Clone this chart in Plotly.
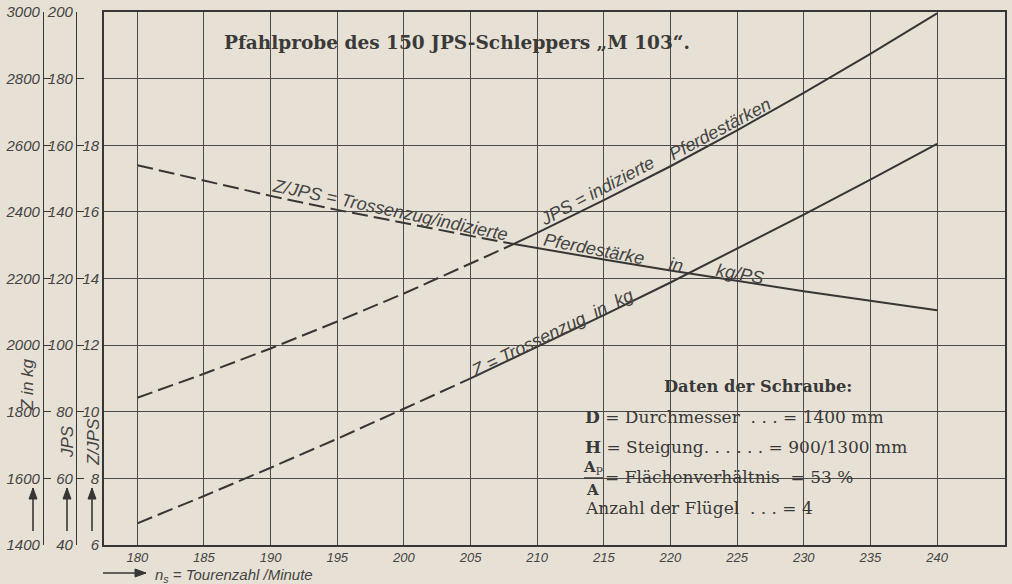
import plotly.graph_objects as go

# ---------------- data ----------------
rpm = [180, 185, 190, 195, 200, 205, 207.5, 210, 215, 220, 225, 230, 235, 240]
jps = [84.2, 91.4, 99.0, 107.1, 115.5, 124.4, 129.0, 133.7, 143.5, 153.7, 164.5, 175.7, 187.4, 199.6]
zug = [1465, 1547, 1632, 1719, 1809, 1900, 1947, 1994, 2090, 2188, 2289, 2392, 2497, 2604]
z_per_jps = [17.40, 16.93, 16.48, 16.06, 15.66, 15.28, 15.09, 14.91, 14.57, 14.24, 13.92, 13.62, 13.33, 13.05]

jps_dash_end = 6      # index where measured (solid) part starts
zjps_dash_end = 6
zug_dash_end = 5

x_ticks = [180, 185, 190, 195, 200, 205, 210, 215, 220, 225, 230, 235, 240]
z_ticks = [1400, 1600, 1800, 2000, 2200, 2400, 2600, 2800, 3000]
jps_ticks = [40, 60, 80, 100, 120, 140, 160, 180, 200]
zjps_ticks = [6, 8, 10, 12, 14, 16, 18]

# ---------------- style ----------------
W, H = 1012, 584
ML, MR, MT, MB = 0, 7, 12, 39
PW, PH = W - ML - MR, H - MT - MB
BG = "#e7e1d5"
INK = "#363636"
TXT = "#444444"
GRID = "#4a4a4a"
SANS = "Liberation Sans, Arial, sans-serif"
SERIF = "DejaVu Serif, Liberation Serif, serif"
DASH = "16px,6px"


def px(x):
    return (x - ML) / PW


def py(y):
    return (H - MB - y) / PH


fig = go.Figure()


def add_line(xs, ys, axis, dash):
    fig.add_trace(go.Scatter(x=xs, y=ys, yaxis=axis, mode="lines",
                             line=dict(color=INK, width=2, dash=dash),
                             hoverinfo="skip", showlegend=False))


add_line(rpm[:jps_dash_end + 1], jps[:jps_dash_end + 1], "y2", DASH)
add_line(rpm[jps_dash_end:], jps[jps_dash_end:], "y2", "solid")
add_line(rpm[:zug_dash_end + 1], zug[:zug_dash_end + 1], "y", DASH)
add_line(rpm[zug_dash_end:], zug[zug_dash_end:], "y", "solid")
add_line(rpm[:zjps_dash_end + 1], z_per_jps[:zjps_dash_end + 1], "y3", DASH)
add_line(rpm[zjps_dash_end:], z_per_jps[zjps_dash_end:], "y3", "solid")

tickfont_y = dict(family=SANS, size=15, color=TXT, style="italic")

fig.update_layout(
    width=W, height=H, template="none",
    paper_bgcolor=BG, plot_bgcolor=BG,
    margin=dict(l=ML, r=MR, t=MT, b=MB, pad=0),
    showlegend=False,
    xaxis=dict(domain=[px(104), 1], range=[177.5, 245.1], tickvals=x_ticks,
               ticks="", showgrid=True, gridcolor=GRID, gridwidth=1,
               showline=True, linecolor=INK, linewidth=1.6, mirror=True,
               zeroline=False, automargin=False,
               tickfont=dict(family=SANS, size=13, color=TXT, style="italic")),
    yaxis=dict(anchor="free", position=px(43), side="left", range=[1400, 3000],
               tickvals=z_ticks, ticks="inside", ticklen=7, tickcolor=INK,
               showline=True, linecolor=INK, linewidth=1.3,
               showgrid=True, gridcolor=GRID, gridwidth=1,
               zeroline=False, automargin=False, tickfont=tickfont_y),
    yaxis2=dict(anchor="free", overlaying="y", position=px(76), side="left",
                range=[40, 200], tickvals=jps_ticks, ticks="inside", ticklen=7,
                tickcolor=INK, showline=True, linecolor=INK, linewidth=1.3,
                showgrid=False, zeroline=False, automargin=False,
                tickfont=tickfont_y),
    yaxis3=dict(anchor="x", overlaying="y", side="left", range=[6, 22],
                tickvals=zjps_ticks, ticks="", showgrid=False,
                showline=True, linecolor=INK, linewidth=1.6, mirror=True,
                zeroline=False, automargin=False, tickfont=tickfont_y),
)

# background patches that hide the grid behind title and data box
fig.add_shape(type="rect", xref="paper", yref="paper", x0=px(212), x1=px(702),
              y0=py(61), y1=py(29), fillcolor=BG, line_width=0, layer="between")
fig.add_shape(type="rect", xref="paper", yref="paper", x0=px(560), x1=px(925),
              y0=py(527), y1=py(369), fillcolor=BG, line_width=0, layer="between")

ann = []


def text(x, y, s, size=16, angle=0, font=SANS, style="italic", anchor="center",
         color=TXT, weight="normal"):
    ann.append(dict(x=px(x), y=py(y), xref="paper", yref="paper", text=s,
                    showarrow=False, textangle=angle, xanchor=anchor,
                    yanchor="middle",
                    font=dict(family=font, size=size, color=color, style=style,
                              weight=weight)))


def arrow(x0, y0, x1, y1):
    """arrow from pixel (x0,y0) to head at (x1,y1)"""
    fig.add_shape(type="line", xref="paper", yref="paper",
                  x0=px(x0), y0=py(y0), x1=px(x1), y1=py(y1),
                  line=dict(color=INK, width=1.6))
    if x0 == x1:  # vertical, pointing up
        pts = [(x1, y1), (x1 - 4, y1 + 11), (x1 + 4, y1 + 11)]
    else:         # horizontal, pointing right
        pts = [(x1, y1), (x1 - 11, y1 - 4), (x1 - 11, y1 + 4)]
    path = "M " + " L ".join(f"{px(a):.5f},{py(b):.5f}" for a, b in pts) + " Z"
    fig.add_shape(type="path", xref="paper", yref="paper", path=path,
                  fillcolor=INK, line=dict(color=INK, width=1))


# title
text(457, 43, "Pfahlprobe des 150 JPS-Schleppers „M 103“.", size=18.5,
     font=SERIF, style="normal", weight="bold", color="#3a3a3a")

# curve labels
text(390, 210, "Z/JPS = Trossenzug/indizierte", size=18, angle=12)
text(594, 249, "Pferdestärke", size=18, angle=11)
text(676, 265, "in", size=18, angle=11)
text(740, 274, "kg/PS", size=18, angle=10)
text(597, 191, "JPS = indizierte", size=18, angle=-28)
text(720, 129, "Pferdestärken", size=18, angle=-28)
text(552, 333, "Z = Trossenzug  in  kg", size=18, angle=-26)

# axis titles
text(27, 385, "Z in kg", size=17, angle=-90)
text(67, 442, "JPS", size=17, angle=-90)
text(93, 442, "Z/JPS", size=17, angle=-90)
text(153, 575, "n<sub>s</sub> = Tourenzahl /Minute", size=15, anchor="left")

# arrows
for ax_x in (33, 67, 92):
    arrow(ax_x, 531, ax_x, 488)
arrow(103, 573, 146, 573)

# data box
DARK = "#383838"
text(758, 386, "Daten der Schraube:", size=16.3, font=SERIF, style="normal",
     weight="bold", color=DARK)
text(583, 417, "<b>D</b> = Durchmesser  . . . = 1400 mm", size=17, font=SERIF,
     style="normal", anchor="left", color=DARK)
text(583, 447, "<b>H</b> = Steigung. . . . . . = 900/1300 mm", size=17, font=SERIF,
     style="normal", anchor="left", color=DARK)
text(593, 467, "<b>A</b><sub>P</sub>", size=15, font=SERIF, style="normal",
     color=DARK)
text(592, 490, "<b>A</b>", size=15, font=SERIF, style="normal", color=DARK)
fig.add_shape(type="line", xref="paper", yref="paper", x0=px(584), x1=px(603),
              y0=py(478), y1=py(478), line=dict(color=DARK, width=1.5))
text(603, 477, "= Flächenverhältnis  = 53 %", size=17, font=SERIF,
     style="normal", anchor="left", color=DARK)
text(583, 508, "Anzahl der Flügel  . . . = 4", size=17, font=SERIF,
     style="normal", anchor="left", color=DARK)

fig.update_layout(annotations=ann)
fig.write_html("out.html", config={"displayModeBar": False},
               post_script="document.body.style.margin='0';"
                           "document.body.style.overflow='hidden';")
